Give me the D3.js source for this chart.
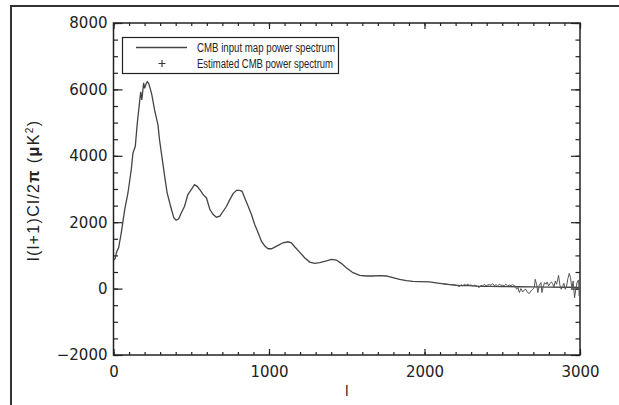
<!DOCTYPE html>
<html><head><meta charset="utf-8">
<script src="https://cdn.jsdelivr.net/npm/d3@7"></script>
<style>body{margin:0;background:#fff}svg{display:block}</style>
</head><body>
<svg id="c" width="619" height="405"></svg>
<script>
// ---- data ----
const inputEll = [2,10,20,33,50,72,93,114,125,140,153,168,175,182,194,200,207,217,226,236,247,264,286,296,311,329,345,367,388,403,419,436,457,478,500,521,538,555,577,598,620,641,662,684,705,727,748,769,791,812,827,844,866,887,908,930,951,973,994,1016,1037,1058,1090,1122,1144,1165,1197,1229,1262,1294,1326,1358,1401,1433,1465,1497,1540,1583,1626,1668,1711,1754,1797,1840,1883,1925,1968,2032,2096,2160,2225,2289,2353,2417,2500,2600,2700,2800,2900,3000];
const inputPower = [860,900,1100,1230,1680,2380,2880,3580,4080,4280,4980,5630,5930,5680,6200,6030,6130,6230,6180,6030,5830,5380,4930,4480,3980,3380,2880,2480,2130,2060,2100,2280,2480,2830,2980,3130,3080,2980,2830,2730,2380,2230,2150,2180,2330,2480,2680,2860,2960,2960,2930,2730,2480,2230,1930,1680,1430,1280,1200,1200,1250,1300,1380,1410,1380,1260,1100,930,800,760,780,820,880,860,760,630,480,400,380,380,390,380,330,280,240,220,210,200,160,120,90,90,70,70,60,55,50,45,40,35];
const estEll = [2100,2150,2200,2215,2224,2235,2246,2256,2267,2278,2288,2299,2310,2320,2331,2342,2352,2363,2374,2384,2395,2406,2417,2428,2438,2449,2460,2470,2481,2492,2503,2514,2524,2535,2545,2556,2567,2578,2584,2592,2601,2610,2620,2631,2642,2652,2663,2674,2685,2695,2706,2712,2721,2729,2738,2749,2755,2764,2772,2781,2789,2798,2806,2815,2824,2832,2841,2849,2856,2862,2871,2879,2888,2896,2905,2913,2922,2931,2939,2948,2956,2965,2973,2982,2991,2995,3000];
const estPower = [160,130,110,80,60,120,80,130,100,130,100,110,80,100,90,60,30,100,80,130,80,110,120,100,150,90,120,80,130,100,100,90,130,80,110,90,120,90,80,-20,30,-120,0,-100,-40,-20,-120,-150,-70,-20,30,280,130,-120,100,180,-120,60,180,130,200,80,140,200,160,30,230,130,260,400,100,-20,60,160,-20,60,300,460,330,0,230,-280,-20,200,260,-220,80];
const xTickValues = [0,1000,2000,3000];
const xTickLabels = ["0","1000","2000","3000"];
const yTickValues = [-2000,0,2000,4000,6000,8000];
const yTickLabels = ["\u22122000","0","2000","4000","6000","8000"];
const legendLabels = ["CMB input map power spectrum","Estimated CMB power spectrum"];
const xTitle = "l";

// ---- layout ----
const svg = d3.select("#c");
const L = 113.5, R = 580, T = 23, B = 355;
const x = d3.scaleLinear().domain([0,3000]).range([L,R]);
const y = d3.scaleLinear().domain([-2000,8000]).range([B,T]);
const ink = "#222";
const tickFont = "DejaVu Sans";

// outer frame
svg.append("rect").attr("x",11).attr("y",6).attr("width",700).attr("height",500)
  .attr("fill","none").attr("stroke","#333").attr("stroke-width",2);

// axes ticks
const xMinor = d3.range(0,3001,100), yMinor = d3.range(-2000,8001,500);
function styleAxis(g){ g.selectAll("path.domain").remove(); g.selectAll("line").attr("stroke",ink).attr("stroke-width",1.2); }
svg.append("g").attr("transform",`translate(0,${B})`).call(d3.axisBottom(x).tickValues(xMinor).tickSize(-3).tickFormat("")).call(styleAxis);
svg.append("g").attr("transform",`translate(0,${B})`).call(d3.axisBottom(x).tickValues(xTickValues).tickSize(-6).tickFormat((d,i)=>xTickLabels[i]).tickPadding(11)).call(styleAxis)
  .selectAll("text").attr("font-family",tickFont).attr("font-size",15).attr("fill",ink);
svg.append("g").attr("transform",`translate(0,${T})`).call(d3.axisTop(x).tickValues(xMinor).tickSize(-3).tickFormat("")).call(styleAxis);
svg.append("g").attr("transform",`translate(0,${T})`).call(d3.axisTop(x).tickValues(xTickValues).tickSize(-6).tickFormat("")).call(styleAxis);
svg.append("g").attr("transform",`translate(${L},0)`).call(d3.axisLeft(y).tickValues(yMinor).tickSize(-4.5).tickFormat("")).call(styleAxis);
svg.append("g").attr("transform",`translate(${L},0)`).call(d3.axisLeft(y).tickValues(yTickValues).tickSize(-9).tickFormat((d,i)=>yTickLabels[i]).tickPadding(6)).call(styleAxis)
  .selectAll("text").attr("font-family",tickFont).attr("font-size",15).attr("fill",ink);
svg.append("g").attr("transform",`translate(${R},0)`).call(d3.axisRight(y).tickValues(yMinor).tickSize(-4.5).tickFormat("")).call(styleAxis);
svg.append("g").attr("transform",`translate(${R},0)`).call(d3.axisRight(y).tickValues(yTickValues).tickSize(-9).tickFormat("")).call(styleAxis);

// plot frame
svg.append("rect").attr("x",L).attr("y",T).attr("width",R-L).attr("height",B-T)
  .attr("fill","none").attr("stroke",ink).attr("stroke-width",1.5);

// curves
const line = d3.line().x(d=>x(d[0])).y(d=>y(d[1]));
svg.append("path").datum(inputEll.map((l,i)=>[l,inputPower[i]])).attr("d",line)
  .attr("fill","none").attr("stroke","#444").attr("stroke-width",1.3);
svg.append("path").datum(estEll.map((l,i)=>[l,estPower[i]])).attr("d",line)
  .attr("fill","none").attr("stroke","#555").attr("stroke-width",1);

// legend
const lg = svg.append("g");
lg.append("rect").attr("x",122.5).attr("y",37.5).attr("width",216).attr("height",36)
  .attr("fill","#fff").attr("stroke",ink).attr("stroke-width",1.2);
lg.append("line").attr("x1",136).attr("x2",187).attr("y1",47.5).attr("y2",47.5).attr("stroke","#444").attr("stroke-width",1.3);
lg.append("path").attr("d","M158.5,63.5h7M162,60v7").attr("stroke","#333").attr("stroke-width",1.1);
legendLabels.forEach((t,i)=>{
  lg.append("text").attr("x",197).attr("y",51.5+i*16).text(t)
    .attr("font-family","'Liberation Sans Narrow','Liberation Sans',sans-serif").attr("font-size",12.5).attr("fill",ink)
    .attr("textLength",i===0?138:136).attr("lengthAdjust","spacingAndGlyphs");
});

// axis titles
svg.append("text").attr("x",(L+R)/2).attr("y",396).attr("text-anchor","middle")
  .attr("font-family","Liberation Sans").attr("font-size",14).attr("fill",ink).text(xTitle);
const yt = svg.append("text").attr("transform","translate(39,261) rotate(-90)")
  .attr("font-family","Liberation Sans").attr("font-size",16).attr("fill",ink)
  .attr("textLength",140).attr("lengthAdjust","spacing");
yt.append("tspan").text("l(l+1)Cl/2");
yt.append("tspan").attr("font-weight","bold").text("\u03c0");
yt.append("tspan").text(" (");
yt.append("tspan").attr("font-weight","bold").text("\u03bc");
yt.append("tspan").text("K");
yt.append("tspan").attr("font-size",10).attr("dy",-6).text("2");
yt.append("tspan").attr("dy",6).text(")");
</script>
</body></html>
